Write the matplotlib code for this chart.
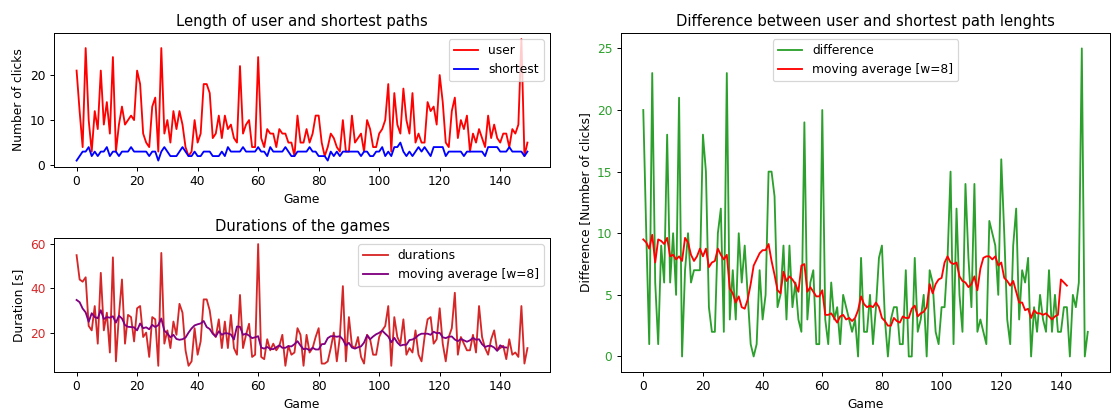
import numpy as np
import matplotlib
matplotlib.use('Agg')
import matplotlib.pyplot as plt

# clicks per game (user path and shortest path)
user = [21, 12, 4, 26, 10, 3, 12, 8, 21, 9, 14, 7, 24, 3, 9, 13, 9, 10, 11, 10,
        21, 18, 7, 5, 4, 13, 15, 3, 26, 7, 10, 5, 12, 8, 12, 9, 4, 2, 3, 10,
        5, 7, 18, 18, 16, 6, 7, 11, 6, 11, 8, 9, 6, 5, 22, 7, 9, 10, 4, 4,
        24, 6, 4, 8, 7, 7, 4, 8, 7, 7, 5, 5, 2, 11, 5, 5, 8, 5, 7, 11,
        11, 5, 2, 4, 7, 6, 4, 3, 10, 3, 3, 11, 5, 6, 7, 3, 10, 8, 4, 4,
        7, 8, 10, 18, 3, 16, 9, 7, 17, 10, 7, 16, 5, 7, 5, 5, 14, 12, 13, 9,
        20, 14, 5, 4, 12, 15, 6, 10, 8, 11, 3, 7, 5, 8, 6, 4, 11, 6, 9, 6,
        5, 7, 7, 4, 8, 7, 9, 28, 2, 5]
shortest = [1, 2, 3, 3, 4, 2, 3, 2, 3, 3, 4, 2, 3, 3, 2, 3, 3, 3, 4, 3,
            3, 3, 3, 3, 2, 3, 3, 1, 3, 4, 3, 2, 2, 2, 3, 4, 3, 2, 2, 3,
            2, 2, 3, 3, 3, 2, 2, 2, 3, 2, 4, 3, 3, 3, 3, 4, 3, 3, 3, 3,
            4, 3, 3, 2, 4, 3, 3, 3, 3, 4, 3, 2, 2, 3, 3, 3, 3, 4, 3, 3,
            2, 2, 2, 1, 3, 2, 3, 2, 3, 3, 3, 3, 3, 3, 2, 3, 3, 2, 2, 3,
            3, 4, 2, 3, 2, 4, 4, 5, 3, 2, 3, 2, 3, 4, 3, 4, 3, 2, 4, 4,
            4, 4, 2, 3, 3, 3, 3, 3, 2, 3, 3, 3, 3, 3, 3, 2, 4, 4, 4, 4,
            3, 3, 3, 4, 3, 3, 3, 3, 2, 3]

# game durations in seconds
durations = [55, 44, 43, 45, 23, 21, 32, 15, 47, 21, 29, 11, 54, 7, 28, 44, 15, 28, 27, 16,
             31, 32, 18, 20, 9, 27, 26, 5, 56, 15, 21, 13, 25, 19, 33, 29, 12, 5, 7, 22,
             10, 16, 35, 35, 30, 20, 18, 26, 13, 25, 13, 28, 13, 10, 37, 13, 19, 24, 9, 10,
             60, 9, 8, 17, 12, 15, 12, 14, 19, 5, 14, 10, 11, 22, 19, 5, 19, 11, 13, 18,
             22, 6, 6, 7, 13, 20, 7, 18, 41, 7, 27, 14, 13, 18, 9, 6, 19, 17, 10, 10,
             18, 21, 23, 32, 5, 27, 18, 15, 26, 10, 13, 11, 21, 10, 7, 18, 26, 27, 15, 17,
             31, 15, 7, 18, 22, 38, 10, 18, 15, 12, 12, 19, 11, 32, 18, 13, 10, 17, 21, 12,
             13, 14, 8, 17, 10, 11, 9, 32, 6, 13]

w = 8

user = np.array(user)
shortest = np.array(shortest)
durations = np.array(durations)
difference = user - shortest

def moving_average(x, w):
    return np.convolve(x, np.ones(w) / w, mode='valid')

# the reference looks like a downscaled figure, so use a lower dpi
dpi = 88.5
fig = plt.figure(figsize=(1112 / dpi, 410 / dpi), dpi=dpi)
ax1 = fig.add_axes([0.0486, 0.5935, 0.446, 0.326])
ax2 = fig.add_axes([0.0486, 0.093, 0.446, 0.3265])
ax3 = fig.add_axes([0.5585, 0.093, 0.4397, 0.8265])

ax1.plot(user, color='red', label='user')
ax1.plot(shortest, color='blue', label='shortest')
ax1.set_title('Length of user and shortest paths')
ax1.set_xlabel('Game')
ax1.set_ylabel('Number of clicks')
ax1.legend(loc='upper right')

ax2.plot(durations, color='tab:red', label='durations')
ax2.plot(moving_average(durations, w), color='purple', label='moving average [w=8]')
ax2.set_title('Durations of the games')
ax2.set_xlabel('Game')
ax2.set_ylabel('Duration [s]')
ax2.tick_params(axis='y', labelcolor='tab:red')
ax2.legend(loc='upper right')

ax3.plot(difference, color='tab:green', label='difference')
ax3.plot(moving_average(difference, w), color='red', label='moving average [w=8]')
ax3.set_title('Difference between user and shortest path lenghts')
ax3.set_xlabel('Game')
ax3.set_ylabel('Difference [Number of clicks]')
ax3.tick_params(axis='y', labelcolor='tab:green')
ax3.legend(loc='upper center')

fig.savefig('out.png', dpi=dpi)
